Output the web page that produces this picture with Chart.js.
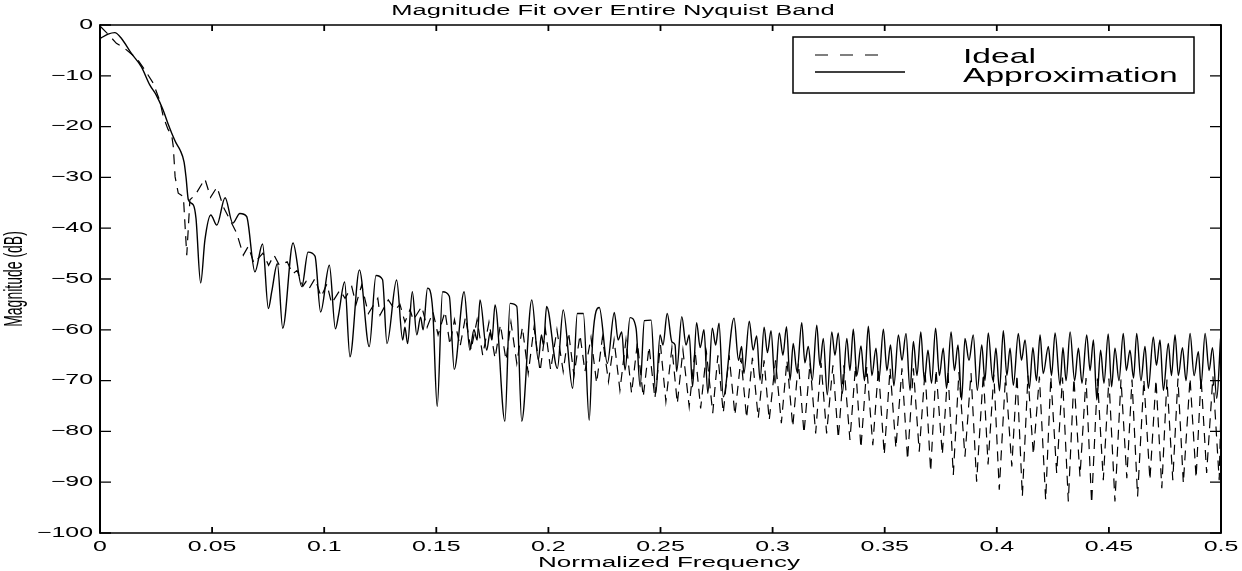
<!DOCTYPE html>
<html>
<head>
<meta charset="utf-8">
<title>Magnitude Fit over Entire Nyquist Band</title>
<script src="https://cdn.jsdelivr.net/npm/chart.js@4.4.1/dist/chart.umd.min.js"></script>
<style>
  html, body { margin: 0; padding: 0; background: #fff; }
  #wrap { width: 1242px; height: 571px; position: relative; }
</style>
</head>
<body>
<div id="wrap"><canvas id="magChart"></canvas></div>
<script>
const chartTitle = 'Magnitude Fit over Entire Nyquist Band';
const xTitle = 'Normalized Frequency';
const yTitle = 'Magnitude (dB)';
const seriesNames = ['Ideal', 'Approximation'];

const xTicks = [0, 0.05, 0.1, 0.15, 0.2, 0.25, 0.3, 0.35, 0.4, 0.45, 0.5];
const xTickLabels = ['0', '0.05', '0.1', '0.15', '0.2', '0.25', '0.3', '0.35', '0.4', '0.45', '0.5'];
const yTicks = [0, -10, -20, -30, -40, -50, -60, -70, -80, -90, -100];
const yTickLabels = ['0', '\u221210', '\u221220', '\u221230', '\u221240', '\u221250', '\u221260', '\u221270', '\u221280', '\u221290', '\u2212100'];

// [normalized frequency, dB] (peaks and dips)
const idealPoints = [
  [0.0002,-0.3],[0.0036,-1.8],[0.0073,-3.6],[0.0110,-4.6],[0.0164,-6.6],[0.0201,-8.9],[0.0238,-11.5],[0.0268,-15.1],
  [0.0282,-18],[0.0303,-20.5],[0.0320,-21.7],[0.0327,-24],[0.0335,-29.9],[0.0349,-33.1],[0.0372,-33.8],[0.0387,-45.3],
  [0.0401,-34.4],[0.0424,-33.5],[0.0468,-30.3],[0.0493,-33.9],[0.0522,-31.9],[0.0550,-35.8],[0.0580,-38.4],[0.0610,-41],
  [0.0639,-45.3],[0.0661,-43.6],[0.0687,-46.9],[0.0727,-44.9],[0.0752,-47.3],[0.0776,-45.3],[0.0800,-47.3],[0.0835,-46.6],
  [0.0859,-49],[0.0879,-48.3],[0.0905,-51.4],[0.0919,-50.5],[0.0934,-51.8],[0.0959,-49.9],[0.0986,-53.5],[0.1012,-51],
  [0.1033,-54.8],[0.1070,-52.2],[0.1093,-53.8],[0.1123,-51.5],[0.1142,-55],[0.1167,-51.2],[0.1197,-56.8],[0.1239,-53.8],
  [0.1249,-57.1],[0.1286,-54.1],[0.1316,-56.1],[0.1338,-55],[0.1360,-58.5],[0.1383,-56],[0.1397,-58.1],[0.1435,-55.4],
  [0.1459,-59.5],[0.1485,-56.5],[0.1508,-61],[0.1539,-56.4],[0.1561,-63],[0.1581,-58],[0.1606,-63.3],[0.1630,-57.5],
  [0.1655,-64],[0.1682,-58],[0.1707,-65],[0.1735,-58.5],[0.1762,-65.6],[0.1786,-59],[0.1811,-66],[0.1833,-58.5],
  [0.1859,-66.6],[0.1884,-59.5],[0.1910,-68.6],[0.1936,-59.5],[0.1963,-68.2],[0.1987,-60],[0.2010,-67.9],[0.2038,-60],
  [0.2066,-68.2],[0.2090,-60.5],[0.2114,-69],[0.2141,-61],[0.2163,-68.2],[0.2190,-61.5],[0.2215,-70.5],[0.2241,-61.5],
  [0.2268,-70.2],[0.2293,-62],[0.2319,-71.9],[0.2346,-62],[0.2371,-72.5],[0.2397,-62.5],[0.2423,-73.2],[0.2449,-63.3],
  [0.2475,-73.5],[0.2500,-63],[0.2524,-74.1],[0.2551,-63.5],[0.2575,-74.5],[0.2600,-64],[0.2628,-75.1],[0.2654,-64],
  [0.2679,-75.5],[0.2705,-64.5],[0.2733,-76.4],[0.2756,-65],[0.2780,-76.4],[0.2806,-65],[0.2832,-76.8],[0.2859,-65.5],
  [0.2884,-77.4],[0.2910,-65.5],[0.2936,-77.4],[0.2962,-66],[0.2985,-77.8],[0.3013,-66],[0.3039,-78.4],[0.3064,-66],
  [0.3090,-79.1],[0.3115,-66.5],[0.3140,-80.4],[0.3167,-66.5],[0.3192,-80.4],[0.3216,-66.5],[0.3241,-80.4],[0.3269,-67],
  [0.3293,-81.4],[0.3318,-67],[0.3345,-81.7],[0.3370,-67],[0.3394,-83.3],[0.3420,-67.3],[0.3447,-82.7],[0.3472,-67.5],
  [0.3498,-84.6],[0.3524,-67.6],[0.3550,-83.3],[0.3577,-67.6],[0.3602,-85.6],[0.3628,-67.6],[0.3654,-84],[0.3680,-68],
  [0.3705,-87.9],[0.3729,-67.8],[0.3757,-84.6],[0.3782,-68],[0.3806,-88.6],[0.3831,-68.3],[0.3858,-85],[0.3885,-68.5],
  [0.3910,-89.9],[0.3940,-68.6],[0.3961,-86.5],[0.3987,-68.8],[0.4011,-91.5],[0.4039,-69],[0.4067,-86.9],[0.4090,-68.8],
  [0.4114,-92.8],[0.4139,-69],[0.4163,-84.6],[0.4190,-69.2],[0.4218,-93.5],[0.4241,-69.2],[0.4267,-88.2],[0.4293,-69.4],
  [0.4319,-93.8],[0.4344,-69.5],[0.4371,-88.9],[0.4398,-69.5],[0.4423,-94.2],[0.4449,-69.6],[0.4475,-89.6],[0.4500,-69.6],
  [0.4527,-93.8],[0.4554,-69.8],[0.4580,-89.2],[0.4603,-69.8],[0.4628,-92.8],[0.4656,-69.8],[0.4683,-89.6],[0.4710,-69.8],
  [0.4736,-91.2],[0.4759,-69.8],[0.4785,-89.6],[0.4808,-69.6],[0.4832,-90.2],[0.4862,-69.5],[0.4889,-89.2],[0.4911,-69.3],
  [0.4936,-88.2],[0.4964,-69.2],[0.4992,-89.6],[0.5000,-75]
];

const approxPoints = [
  [0.0003,-2.6],[0.0036,-1.8],[0.0066,-1.5],[0.0095,-2.6],[0.0140,-5.6],[0.0184,-8.2],[0.0222,-11.8],[0.0251,-13.8],
  [0.0281,-16.7],[0.0303,-19.4],[0.0320,-21.3],[0.0339,-23.2],[0.0357,-24.6],[0.0375,-27],[0.0384,-30.1],[0.0394,-34.4],
  [0.0416,-35.4],[0.0428,-38],[0.0449,-50.8],[0.0468,-42.3],[0.0494,-37.4],[0.0521,-39.4],[0.0558,-34],[0.0592,-39],
  [0.0624,-37.1],[0.0654,-37.7],[0.0691,-48.6],[0.0725,-43.1],[0.0751,-55.8],[0.0766,-52.5],[0.0791,-47],[0.0815,-59.7],
  [0.0861,-42.9],[0.0900,-51.5],[0.0928,-44.7],[0.0959,-45.5],[0.0984,-56.5],[0.1023,-47.3],[0.1050,-59.8],[0.1064,-57.1],
  [0.1091,-50.6],[0.1115,-65.3],[0.1157,-48.2],[0.1201,-63.3],[0.1231,-49.3],[0.1260,-50.1],[0.1280,-62.7],[0.1323,-50.2],
  [0.1350,-62],[0.1360,-59.5],[0.1372,-62.7],[0.1393,-52.5],[0.1413,-61],[0.1430,-57.5],[0.1441,-60],[0.1461,-51.8],
  [0.1484,-56.1],[0.1504,-75.1],[0.1528,-52.5],[0.1558,-53.4],[0.1580,-67.8],[0.1624,-52.5],[0.1650,-64],[0.1668,-60],
  [0.1682,-62],[0.1695,-54.1],[0.1725,-64],[0.1740,-60.5],[0.1748,-62],[0.1762,-55.1],[0.1806,-78],[0.1829,-54.8],
  [0.1859,-55.4],[0.1881,-78],[0.1926,-54.1],[0.1955,-65.9],[0.1969,-61],[0.1978,-63],[0.1992,-55.4],[0.2040,-67.6],
  [0.2066,-56.1],[0.2108,-71.5],[0.2129,-56.8],[0.2156,-56.8],[0.2182,-77.8],[0.2198,-61.5],[0.2227,-55.6],[0.2263,-66.6],
  [0.2294,-56.6],[0.2311,-62],[0.2327,-60.4],[0.2342,-67.9],[0.2364,-57.6],[0.2391,-59.7],[0.2409,-71.2],[0.2428,-58.2],
  [0.2458,-58.1],[0.2479,-72.5],[0.2498,-61],[0.2511,-63],[0.2530,-56.8],[0.2551,-62.4],[0.2565,-63],[0.2572,-68.2],
  [0.2595,-57.4],[0.2614,-63],[0.2628,-61],[0.2643,-71.2],[0.2661,-58.6],[0.2677,-63.5],[0.2694,-60],[0.2711,-72.5],
  [0.2731,-59.7],[0.2746,-63],[0.2761,-58.7],[0.2780,-73.2],[0.2828,-57.7],[0.2848,-66],[0.2862,-63.3],[0.2872,-68.6],
  [0.2896,-58.3],[0.2913,-64],[0.2929,-61.2],[0.2944,-69.9],[0.2962,-59.5],[0.2977,-64.5],[0.2993,-60.2],[0.3011,-70.5],
  [0.3030,-60.6],[0.3046,-65],[0.3062,-59.4],[0.3078,-69.9],[0.3092,-62.7],[0.3109,-68.3],[0.3130,-58.6],[0.3144,-66.5],
  [0.3159,-63.3],[0.3177,-69.9],[0.3197,-59.1],[0.3211,-67],[0.3226,-61.7],[0.3244,-72.8],[0.3264,-60.4],[0.3278,-65],
  [0.3293,-60.6],[0.3311,-72.5],[0.3331,-61.7],[0.3345,-68],[0.3360,-59.9],[0.3376,-69],[0.3394,-63.2],[0.3410,-70],
  [0.3427,-59.3],[0.3443,-69],[0.3461,-63.6],[0.3474,-69.9],[0.3494,-59.9],[0.3510,-68],[0.3526,-63],[0.3541,-71],
  [0.3561,-61],[0.3577,-66],[0.3595,-60.7],[0.3613,-71.9],[0.3628,-62.3],[0.3644,-69],[0.3661,-60.4],[0.3677,-70],
  [0.3693,-64],[0.3709,-70.5],[0.3727,-59.7],[0.3744,-69],[0.3761,-63.6],[0.3776,-71.5],[0.3796,-60.4],[0.3811,-68],
  [0.3827,-63],[0.3843,-73.8],[0.3858,-61.7],[0.3876,-66],[0.3895,-61],[0.3913,-71.9],[0.3933,-63],[0.3947,-70],
  [0.3962,-60.6],[0.3982,-69.9],[0.3996,-63.6],[0.4012,-72],[0.4029,-60.2],[0.4045,-69],[0.4059,-63.6],[0.4074,-70.9],
  [0.4096,-60.7],[0.4110,-66],[0.4126,-62],[0.4145,-71.5],[0.4161,-63.5],[0.4177,-70],[0.4193,-61],[0.4207,-68.6],
  [0.4230,-63.3],[0.4244,-69],[0.4260,-60.6],[0.4282,-70.9],[0.4295,-63.5],[0.4309,-70],[0.4327,-60.4],[0.4347,-70],
  [0.4364,-63.6],[0.4380,-70.5],[0.4401,-61],[0.4416,-68],[0.4431,-62],[0.4446,-73.8],[0.4463,-64],[0.4478,-70.5],
  [0.4497,-60.8],[0.4512,-71.2],[0.4527,-63.6],[0.4545,-70],[0.4564,-60.7],[0.4578,-68],[0.4594,-64],[0.4610,-69.5],
  [0.4624,-60.7],[0.4643,-70],[0.4661,-63.3],[0.4676,-71.5],[0.4698,-61.4],[0.4712,-67],[0.4728,-62],[0.4743,-71.9],
  [0.4765,-62.7],[0.4779,-69],[0.4795,-61],[0.4810,-69],[0.4828,-63.5],[0.4844,-70],[0.4862,-60.7],[0.4880,-69],
  [0.4899,-64.3],[0.4911,-70.9],[0.4929,-60.7],[0.4947,-68],[0.4962,-63.5],[0.4981,-73.5],[0.4998,-61.7]
];

// the reference picture is stretched sideways, so its text is drawn wide
const textStretch = 1.78;
const titleStretch = 1.82;
const xTitleStretch = 1.86;
const legendStretch = 1.6;
const fontFamily = '"Liberation Sans", Arial, Helvetica, sans-serif';

function wideText(ctx, text, x, y, align, sx) {
  ctx.save();
  ctx.translate(x, y);
  ctx.scale(sx, 1);
  ctx.textAlign = align;
  ctx.fillText(text, 0, 0);
  ctx.restore();
}

// axes box, inward ticks, labels, titles and legend in the old MATLAB style
const matlabAxes = {
  id: 'matlabAxes',
  afterDatasetsDraw(chart) {
    const { ctx, chartArea: a, scales: { x, y } } = chart;
    ctx.save();
    ctx.strokeStyle = '#000';
    ctx.fillStyle = '#000';

    // ticks
    ctx.lineWidth = 1.8;
    ctx.beginPath();
    xTicks.forEach(v => {
      const px = x.getPixelForValue(v);
      ctx.moveTo(px, a.bottom); ctx.lineTo(px, a.bottom - 6);
      ctx.moveTo(px, a.top); ctx.lineTo(px, a.top + 6);
    });
    ctx.stroke();
    ctx.lineWidth = 1.3;
    ctx.beginPath();
    yTicks.forEach(v => {
      const py = y.getPixelForValue(v);
      ctx.moveTo(a.left, py); ctx.lineTo(a.left + 11, py);
      ctx.moveTo(a.right, py); ctx.lineTo(a.right - 11, py);
    });
    ctx.stroke();

    // box
    ctx.lineWidth = 1.4;
    ctx.beginPath();
    ctx.moveTo(a.left, a.top); ctx.lineTo(a.right, a.top);
    ctx.moveTo(a.left, a.bottom); ctx.lineTo(a.right, a.bottom);
    ctx.stroke();
    ctx.lineWidth = 2;
    ctx.beginPath();
    ctx.moveTo(a.left, a.top - 0.7); ctx.lineTo(a.left, a.bottom + 0.7);
    ctx.moveTo(a.right, a.top - 0.7); ctx.lineTo(a.right, a.bottom + 0.7);
    ctx.stroke();

    // tick labels
    ctx.font = '14px ' + fontFamily;
    ctx.textBaseline = 'middle';
    yTicks.forEach((v, i) => wideText(ctx, yTickLabels[i], a.left - 7, y.getPixelForValue(v), 'right', textStretch));
    ctx.textBaseline = 'top';
    xTicks.forEach((v, i) => wideText(ctx, xTickLabels[i], x.getPixelForValue(v), a.bottom + 7, 'center', textStretch));

    // titles
    ctx.textBaseline = 'middle';
    wideText(ctx, chartTitle, 613, 11, 'center', titleStretch);
    wideText(ctx, xTitle, 669, a.bottom + 30, 'center', xTitleStretch);
    ctx.save();
    ctx.translate(15, (a.top + a.bottom) / 2);
    ctx.scale(textStretch, 1);
    ctx.rotate(-Math.PI / 2);
    ctx.textAlign = 'center';
    ctx.fillText(yTitle, 0, 0);
    ctx.restore();

    // legend
    const bx = a.right - 428, by = a.top + 12, bw = 401, bh = 56;
    ctx.fillStyle = '#fff';
    ctx.fillRect(bx, by, bw, bh);
    ctx.lineWidth = 1.5;
    ctx.strokeRect(bx, by, bw, bh);
    ctx.fillStyle = '#000';
    ctx.lineWidth = 1.2;
    ctx.beginPath();
    ctx.setLineDash([13, 12]);
    ctx.moveTo(bx + 22, by + 18); ctx.lineTo(bx + 85, by + 18);
    ctx.stroke();
    ctx.setLineDash([]);
    ctx.lineWidth = 1.4;
    ctx.beginPath();
    ctx.moveTo(bx + 22, by + 35); ctx.lineTo(bx + 112, by + 35);
    ctx.stroke();
    ctx.font = '21px ' + fontFamily;
    ctx.textBaseline = 'alphabetic';
    wideText(ctx, seriesNames[0], bx + 170, by + 26, 'left', legendStretch);
    wideText(ctx, seriesNames[1], bx + 170, by + 44.5, 'left', legendStretch);
    ctx.restore();
  }
};

const toXY = pts => pts.map(p => ({ x: p[0], y: p[1] }));

new Chart(document.getElementById('magChart'), {
  type: 'line',
  data: {
    datasets: [
      {
        label: seriesNames[0],
        data: toXY(idealPoints),
        borderColor: '#000',
        borderWidth: 1.2,
        borderDash: [10, 7],
        pointRadius: 0,
        tension: 0,
        fill: false
      },
      {
        label: seriesNames[1],
        data: toXY(approxPoints),
        borderColor: '#000',
        borderWidth: 1.4,
        pointRadius: 0,
        cubicInterpolationMode: 'monotone',
        fill: false
      }
    ]
  },
  options: {
    responsive: true,
    maintainAspectRatio: false,
    animation: false,
    layout: { padding: { left: 100, right: 21, top: 25, bottom: 38 } },
    plugins: {
      legend: { display: false },
      title: { display: false },
      tooltip: { enabled: false }
    },
    scales: {
      x: { type: 'linear', min: 0, max: 0.5, display: false },
      y: { type: 'linear', min: -100, max: 0, display: false }
    }
  },
  plugins: [matlabAxes]
});
</script>
</body>
</html>
